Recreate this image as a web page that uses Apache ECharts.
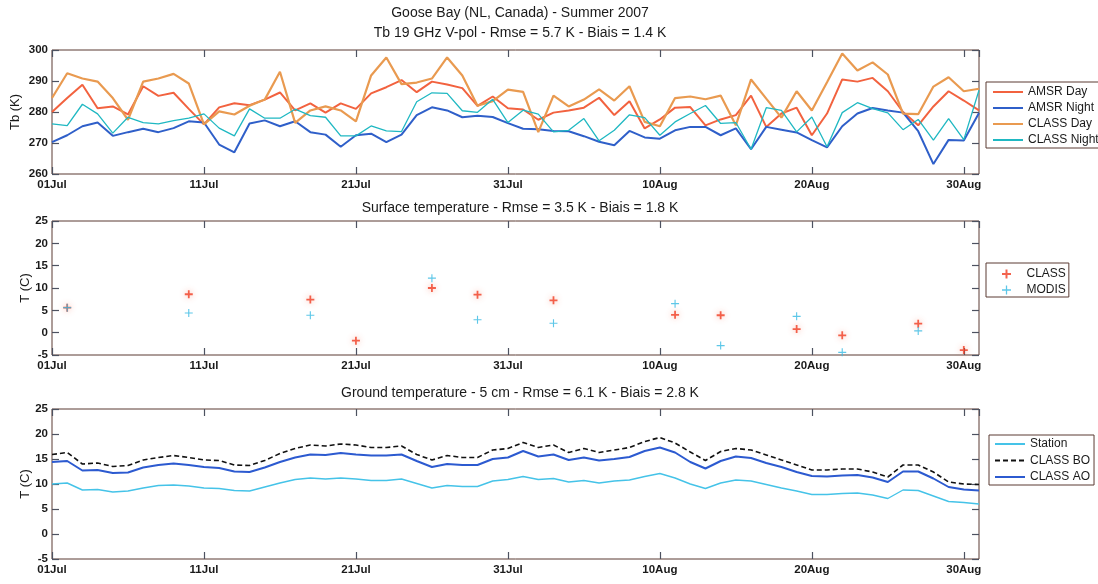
<!DOCTYPE html>
<html>
<head>
<meta charset="utf-8">
<script src="https://cdn.jsdelivr.net/npm/echarts@6/dist/echarts.min.js"></script>
<style>html,body{margin:0;padding:0;background:#fff;}#c{width:1098px;height:584px;}</style>
</head>
<body>
<div id="c"></div>
<script>
// x tick labels (day index 0 = 01 Jul 2007, every 10 days)
const xTickLabels = ['01Jul','11Jul','21Jul','31Jul','10Aug','20Aug','30Aug'];

// Panel 1: Tb 19 GHz V-pol (K), daily 01Jul..31Aug
const amsrDay = [280,284.5,288.8,281.2,281.8,279.2,288.3,285.2,286.2,281,276,281.5,282.8,282.2,284,286.3,280.5,282.8,279.8,282.8,281,286,288,290.3,286.4,289.8,288.9,287.7,282,285,281.2,280.8,277.5,279.8,280.5,281.4,284.6,279,283.5,274.7,277.6,281.4,281.6,275.7,277.6,279,285.3,275.2,279.5,281.4,272.5,279.5,290.5,289.8,291,286.7,280,275.7,281.8,286.7,283.7,280.5];
const amsrNight = [270.3,272.5,275.4,276.6,272.3,273.5,274.6,273.5,274.8,277,276.6,269.5,267,276.3,277.3,275.4,277,273.5,272.7,268.8,272.5,273,270.3,272.7,279,281.5,280.5,278.3,278.8,278.4,276.4,274.6,274.4,273.9,273.8,272.2,270.4,269.3,273.9,271.8,271.4,274.1,275.2,275.2,272.5,274.7,268,275.2,274.3,273.4,270.9,268.6,275.4,279.5,281.3,280.5,279.8,273.8,263.2,271,270.8,279.7];
const classDay = [284.5,292.5,290.8,289.8,284.5,277.5,289.8,290.8,292.3,289.2,276,280.2,279.2,282,284,293,276.5,280.5,281.8,280.5,277,291.8,297.6,289,289.5,290.8,297.6,291.8,282,283.5,287.2,286.5,273.5,285.3,281.8,284,287.3,283.7,288.3,276.8,275.4,284.5,285,284.1,285.3,275.7,290.5,284.3,278.2,286.7,280.5,289.6,298.9,293.4,296,292.1,279.5,279.3,288.2,291.2,286.7,287.5];
const classNight = [276.2,275.6,282.5,279.4,273.2,278.3,276.6,276.2,277.2,278,279.4,274.8,272.3,281,278,278,280.9,278.8,278.3,272.3,272.3,275.5,273.9,273.7,283.3,286.2,286,280.4,279.9,284.1,276.6,280.6,279.3,273.6,274.1,277.9,270.7,274.1,279.1,278.2,272.5,276.8,279.5,282.1,276.3,276.6,268,281.4,280.5,273.6,278.4,268.8,279.8,283,281.1,279.7,274.3,277.6,270.9,277.9,271.1,287];

// Panel 2: surface temperature (C), sparse days
const classSurfDays = [1,9,17,20,25,28,33,41,44,49,52,57,60];
const classSurfVals = [5.6,8.6,7.4,-1.8,10,8.5,7.25,4,3.9,0.8,-0.6,2.0,-3.9];
const modisSurfDays = [1,9,17,25,28,33,41,44,49,52,57];
const modisSurfVals = [5.6,4.4,3.9,12.2,2.9,2.1,6.5,-2.9,3.65,-4.4,0.4];

// Panel 3: ground temperature 5 cm (C), daily
const station = [10.0,10.2,8.8,8.9,8.4,8.6,9.2,9.7,9.8,9.6,9.2,9.1,8.7,8.6,9.4,10.2,10.9,11.2,11.0,11.2,11.0,10.7,10.7,11.0,10.1,9.2,9.7,9.5,9.5,10.6,10.9,11.5,10.9,11.1,10.4,10.7,10.2,10.6,10.8,11.5,12.1,11.2,10.0,9.1,10.2,10.8,10.6,9.9,9.2,8.6,7.9,7.9,8.1,8.2,7.8,7.1,8.8,8.7,7.6,6.5,6.3,6.0];
const classBO = [15.9,16.3,14.0,14.2,13.5,13.7,14.8,15.3,15.7,15.3,14.8,14.7,13.8,13.7,14.7,16.1,17.1,17.8,17.6,18.0,17.8,17.3,17.3,17.6,15.9,14.8,15.7,15.3,15.3,16.8,17.1,18.3,17.3,17.8,16.3,17.1,16.3,16.8,17.3,18.5,19.3,18.2,16.4,14.7,16.5,17.1,16.8,15.8,14.8,13.8,12.8,12.8,13.0,13.0,12.4,11.4,13.8,13.8,12.4,10.4,10.0,9.9];
const classAO = [14.4,14.6,12.7,12.8,12.2,12.3,13.3,13.8,14.1,13.8,13.4,13.2,12.5,12.4,13.3,14.4,15.3,15.9,15.8,16.2,15.9,15.7,15.7,15.9,14.6,13.4,14.0,13.8,13.8,15.0,15.3,16.6,15.5,15.9,14.8,15.3,14.7,15.0,15.4,16.6,17.3,16.3,14.4,13.1,14.6,15.5,15.2,14.2,13.4,12.4,11.6,11.5,11.7,11.8,11.3,10.4,12.5,12.5,11.1,9.4,8.9,8.7];

const FONT = '"Liberation Sans", Arial, sans-serif';
const BORDER = '#5b3b33';
const TICK = '#4d5260';
const TXT = '#1a1a1a';
const plusPath = 'path://M4.3,0L5.7,0L5.7,4.3L10,4.3L10,5.7L5.7,5.7L5.7,10L4.3,10L4.3,5.7L0,5.7L0,4.3L4.3,4.3Z';
const plusBold = 'path://M3.9,0L6.1,0L6.1,3.9L10,3.9L10,6.1L6.1,6.1L6.1,10L3.9,10L3.9,6.1L0,6.1L0,3.9L3.9,3.9Z';

const grids = [
  {left: 52, right: 119, top: 50, height: 124},
  {left: 52, right: 119, top: 221, height: 134},
  {left: 52, right: 119, top: 409, height: 150}
].map(g => Object.assign(g, {show: true, borderColor: BORDER, borderWidth: 1, containLabel: false, outerBoundsMode: 'none'}));

function xAx(gi, top) {
  return {
    type: 'value', gridIndex: gi, min: 0, max: 61, interval: 10,
    position: top ? 'top' : 'bottom',
    axisLine: {show: false, onZero: false},
    axisTick: {show: true, inside: true, length: 7, lineStyle: {color: TICK, width: 1.2}},
    splitLine: {show: false},
    axisLabel: top ? {show: false} : {
      show: true, margin: 5, color: TXT, fontFamily: FONT, fontSize: 11.5, fontWeight: 'bold',
      showMaxLabel: false,
      formatter: v => (v % 10 === 0 ? (xTickLabels[v / 10] || '') : '')
    }
  };
}
function yAx(gi, right, min, max, interval, name, gap) {
  return {
    type: 'value', gridIndex: gi, min, max, interval,
    position: right ? 'right' : 'left',
    axisLine: {show: false, onZero: false},
    axisTick: {show: true, inside: true, length: 7, lineStyle: {color: TICK, width: 1.2}},
    splitLine: {show: false},
    name: right ? '' : name, nameLocation: 'middle', nameGap: gap || 20, nameRotate: 90,
    nameMoveOverlap: false,
    nameTextStyle: {color: TXT, fontFamily: FONT, fontSize: 13},
    axisLabel: right ? {show: false} : {show: true, margin: 4, color: TXT, fontFamily: FONT, fontSize: 11.5, fontWeight: 'bold'}
  };
}

const xAxes = [xAx(0,false), xAx(0,true), xAx(1,false), xAx(1,true), xAx(2,false), xAx(2,true)];
const yAxes = [yAx(0,false,260,300,10,'Tb (K)',30), yAx(0,true,260,300,10), yAx(1,false,-5,25,5,'T (C)',20), yAx(1,true,-5,25,5), yAx(2,false,-5,25,5,'T (C)',20), yAx(2,true,-5,25,5)];

const idx = arr => arr.map((v, i) => [i, v]);
const pair = (d, v) => d.map((x, i) => [x, v[i]]);
function line(name, data, xi, color, width, type) {
  return {name, type: 'line', xAxisIndex: xi, yAxisIndex: xi, data: idx(data), symbol: 'none', showSymbol: false,
    lineStyle: {color, width, type: type || 'solid'}, itemStyle: {color}, animation: false, z: 3};
}

const series = [
  line('AMSR Day', amsrDay, 0, '#f2623f', 2),
  line('AMSR Night', amsrNight, 0, '#2f5fc9', 2),
  line('CLASS Day', classDay, 0, '#e99a50', 2.2),
  line('CLASS Night', classNight, 0, '#1fb8c2', 1.3),
  {name: 'CLASS', type: 'scatter', xAxisIndex: 2, yAxisIndex: 2, data: pair(classSurfDays, classSurfVals),
    symbol: plusBold, symbolSize: 8, itemStyle: {color: '#f03c22', shadowBlur: 6, shadowColor: 'rgba(245,90,60,0.55)'}, animation: false},
  {name: 'MODIS', type: 'scatter', xAxisIndex: 2, yAxisIndex: 2, data: pair(modisSurfDays, modisSurfVals),
    symbol: plusPath, symbolSize: 8, itemStyle: {color: '#35b9e2'}, animation: false},
  line('Station', station, 4, '#45c3e8', 1.4),
  line('CLASS BO', classBO, 4, '#111111', 1.6, [5, 3]),
  line('CLASS AO', classAO, 4, '#2c5ad0', 2)
];

const legendBase = {
  orient: 'vertical', borderColor: BORDER, borderWidth: 1, backgroundColor: '#fff',
  itemWidth: 30, itemHeight: 12, itemGap: 4,
  textStyle: {color: TXT, fontFamily: FONT, fontSize: 12}
};
const lineLegend = {itemStyle: {opacity: 0}};

const option = {
  backgroundColor: '#fff',
  animation: false,
  title: [
    {text: 'Goose Bay (NL, Canada) - Summer 2007\nTb 19 GHz V-pol - Rmse = 5.7 K - Biais = 1.4 K', left: 515, top: -2, textAlign: 'center',
      textStyle: {fontFamily: FONT, fontSize: 14, fontWeight: 'normal', color: TXT, lineHeight: 20}},
    {text: 'Surface temperature - Rmse = 3.5 K - Biais = 1.8 K', left: 515, top: 196, textAlign: 'center',
      textStyle: {fontFamily: FONT, fontSize: 14, fontWeight: 'normal', color: TXT}},
    {text: 'Ground temperature - 5 cm - Rmse = 6.1 K - Biais = 2.8 K', left: 515, top: 381, textAlign: 'center',
      textStyle: {fontFamily: FONT, fontSize: 14, fontWeight: 'normal', color: TXT}}
  ],
  legend: [
    Object.assign({}, legendBase, lineLegend, {left: 986, top: 82, padding: [4, 2, 2, 6], data: ['AMSR Day','AMSR Night','CLASS Day','CLASS Night']}),
    Object.assign({}, legendBase, {left: 986, top: 263, padding: [5, 3, 1, 16], itemHeight: 9, itemGap: 4, data: ['CLASS','MODIS']}),
    Object.assign({}, legendBase, lineLegend, {left: 989, top: 435, padding: [3, 4, 2, 5], itemGap: 4.5, data: ['Station','CLASS BO','CLASS AO']})
  ],
  grid: grids,
  xAxis: xAxes,
  yAxis: yAxes,
  series
};

const chart = echarts.init(document.getElementById('c'), null, {renderer: 'canvas'});
chart.setOption(option);
</script>
</body>
</html>
